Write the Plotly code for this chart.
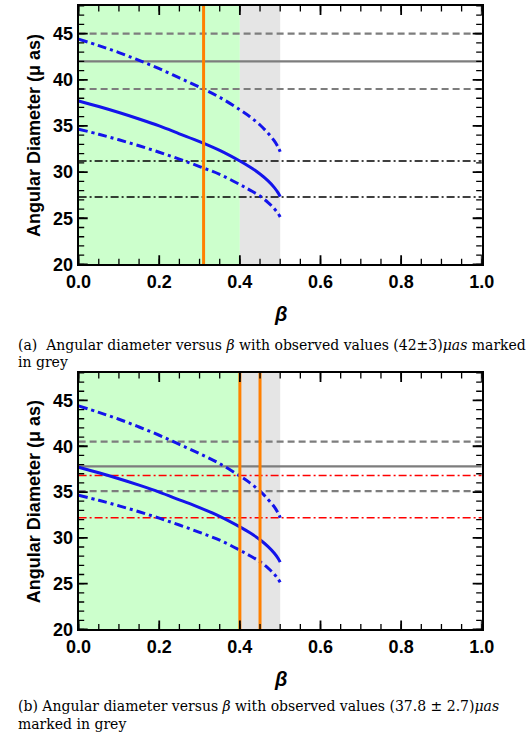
import plotly.graph_objects as go

# Rotation parameter grid and model angular diameters (micro-arcseconds)
beta = [0.0, 0.05, 0.1, 0.15, 0.2, 0.25, 0.3, 0.35, 0.4, 0.425, 0.45, 0.47, 0.485, 0.495, 0.5]
diam_central = [37.7, 37.1, 36.45, 35.75, 35.0, 34.15, 33.3, 32.35, 31.2, 30.55, 29.8, 29.05, 28.35, 27.75, 27.35]
diam_upper = [44.4, 43.7, 42.95, 42.1, 41.2, 40.2, 39.2, 38.1, 36.75, 36.0, 35.1, 34.2, 33.4, 32.7, 32.2]
diam_lower = [34.65, 34.1, 33.5, 32.85, 32.15, 31.4, 30.6, 29.75, 28.65, 28.05, 27.4, 26.7, 26.05, 25.5, 25.15]

# Observed values and reference levels for each panel
obs_a, err_a = 42.0, 3.0
levels_a = [31.2, 27.3]
beta_marks_a = [0.31]

obs_b, err_b = 37.8, 2.7
levels_b = [36.8, 32.2]
beta_marks_b = [0.40, 0.45]

# Allowed / marginal parameter bands
band_allowed = [0.0, 0.4]
band_marginal = [0.4, 0.5]

# Axis ticks
x_major = [0.0, 0.2, 0.4, 0.6, 0.8, 1.0]
x_minor = [round(0.05 * k, 2) for k in range(21)]
y_major = [20, 25, 30, 35, 40, 45]
y_minor = list(range(20, 49))
X_RANGE = [0, 1]
Y_RANGE = [20, 48]

W, H = 529, 749
X0, X1 = 69, 493
panels = [
    dict(top=6, bottom=268, obs=obs_a, err=err_a, levels=levels_a, lvl_color="black",
         marks=beta_marks_a, xa="x", ya="y"),
    dict(top=378, bottom=638, obs=obs_b, err=err_b, levels=levels_b, lvl_color="rgb(255,0,0)",
         marks=beta_marks_b, xa="x2", ya="y2"),
]

fig = go.Figure()
shapes = []


def frame_ticks(xa, ya, size, width):
    """Tick marks on all four frame edges; the plot-area clip keeps only the inner half."""
    xs_minor = x_minor if size < 10 else x_major
    ys_minor = y_minor if size < 10 else y_major
    tick_style = dict(size=size, color="black", line=dict(color="black", width=width))
    for yv in Y_RANGE:
        fig.add_trace(go.Scatter(x=xs_minor, y=[yv] * len(xs_minor), mode="markers",
                                 marker=dict(symbol="line-ns", **tick_style), cliponaxis=True,
                                 xaxis=xa, yaxis=ya, showlegend=False, hoverinfo="skip"))
    for xv in X_RANGE:
        fig.add_trace(go.Scatter(x=[xv] * len(ys_minor), y=ys_minor, mode="markers",
                                 marker=dict(symbol="line-ew", **tick_style), cliponaxis=True,
                                 xaxis=xa, yaxis=ya, showlegend=False, hoverinfo="skip"))


for p in panels:
    xa, ya = p["xa"], p["ya"]
    # shaded bands
    shapes.append(dict(type="rect", xref=xa, yref=ya,
                       x0=band_allowed[0], x1=band_allowed[1], y0=Y_RANGE[0], y1=Y_RANGE[1],
                       fillcolor="rgb(204,255,204)", line_width=0, layer="below"))
    shapes.append(dict(type="rect", xref=xa, yref=ya,
                       x0=band_marginal[0], x1=band_marginal[1], y0=Y_RANGE[0], y1=Y_RANGE[1],
                       fillcolor="rgb(229,229,229)", line_width=0, layer="below"))
    # observed value and its error band
    fig.add_trace(go.Scatter(x=X_RANGE, y=[p["obs"], p["obs"]], mode="lines",
                             line=dict(color="rgb(125,125,125)", width=2.2),
                             xaxis=xa, yaxis=ya, showlegend=False))
    for v in (p["obs"] + p["err"], p["obs"] - p["err"]):
        fig.add_trace(go.Scatter(x=X_RANGE, y=[v, v], mode="lines",
                                 line=dict(color="rgb(125,125,125)", width=2.2, dash="7px,4px"),
                                 xaxis=xa, yaxis=ya, showlegend=False))
    # reference levels
    for v in p["levels"]:
        fig.add_trace(go.Scatter(x=X_RANGE, y=[v, v], mode="lines",
                                 line=dict(color=p["lvl_color"], width=1.4, dash="8px,3px,2px,3px"),
                                 xaxis=xa, yaxis=ya, showlegend=False))
    # model curves
    fig.add_trace(go.Scatter(x=beta, y=diam_central, mode="lines",
                             line=dict(color="rgb(20,20,235)", width=3, shape="spline"),
                             xaxis=xa, yaxis=ya, showlegend=False))
    for curve in (diam_upper, diam_lower):
        fig.add_trace(go.Scatter(x=beta, y=curve, mode="lines",
                                 line=dict(color="rgb(20,20,235)", width=3, shape="spline",
                                           dash="9px,4px,3px,4px"),
                                 xaxis=xa, yaxis=ya, showlegend=False))
    # selected beta values
    for b in p["marks"]:
        fig.add_trace(go.Scatter(x=[b, b], y=Y_RANGE, mode="lines",
                                 line=dict(color="rgb(255,128,0)", width=3),
                                 xaxis=xa, yaxis=ya, showlegend=False))
    # frame ticks: minor then major
    frame_ticks(xa, ya, size=8, width=1.3)
    frame_ticks(xa, ya, size=13, width=1.8)

tickfont = dict(family="Liberation Sans", size=18, color="black", weight="bold")
axis_base = dict(showline=True, linecolor="black", linewidth=2, mirror=True, ticks="",
                 showgrid=False, zeroline=False, tickfont=tickfont)
xticks = dict(range=X_RANGE, tickvals=x_major, tickformat=".1f", domain=[X0 / W, X1 / W])
yticks = dict(range=Y_RANGE, tickvals=y_major)

fig.update_layout(
    width=W, height=H, margin=dict(l=0, r=0, t=0, b=0),
    paper_bgcolor="white", plot_bgcolor="white",
    xaxis=dict(**axis_base, **xticks, anchor="y"),
    yaxis=dict(**axis_base, **yticks, anchor="x", domain=[1 - 268 / H, 1 - 6 / H]),
    xaxis2=dict(**axis_base, **xticks, anchor="y2"),
    yaxis2=dict(**axis_base, **yticks, anchor="x2", domain=[1 - 638 / H, 1 - 378 / H]),
    shapes=shapes,
)

ann = []
title_font = dict(family="Liberation Sans", size=18, color="black", weight="bold")
beta_font = dict(family="Liberation Sans", size=20, color="black", weight="bold")
cap_font = dict(family="DejaVu Serif", size=14, color="black")
for p in panels:
    mid = (p["top"] + p["bottom"]) / 2
    ann.append(dict(text="Angular Diameter (μ as)", x=22 / W, y=1 - mid / H, xref="paper", yref="paper",
                    textangle=-90, showarrow=False, font=title_font, xanchor="center", yanchor="middle"))
    ann.append(dict(text="<i>β</i>", x=(X0 + X1) / 2 / W, y=1 - (p["bottom"] + 50) / H, xref="paper",
                    yref="paper", showarrow=False, font=beta_font, xanchor="center", yanchor="middle"))

captions = [
    ("(a)  Angular diameter versus <i>β</i> with observed values (42±3)<i>μas</i> marked", 350),
    ("in grey", 367),
    ("(b) Angular diameter versus <i>β</i> with observed values (37.8 ± 2.7)<i>μas</i>", 716),
    ("marked in grey", 734),
]
for text, yy in captions:
    ann.append(dict(text=text, x=3 / W, y=1 - yy / H, xref="paper", yref="paper", showarrow=False,
                    font=cap_font, xanchor="left", yanchor="middle"))
fig.update_layout(annotations=ann)

fig.write_html("out.html")
